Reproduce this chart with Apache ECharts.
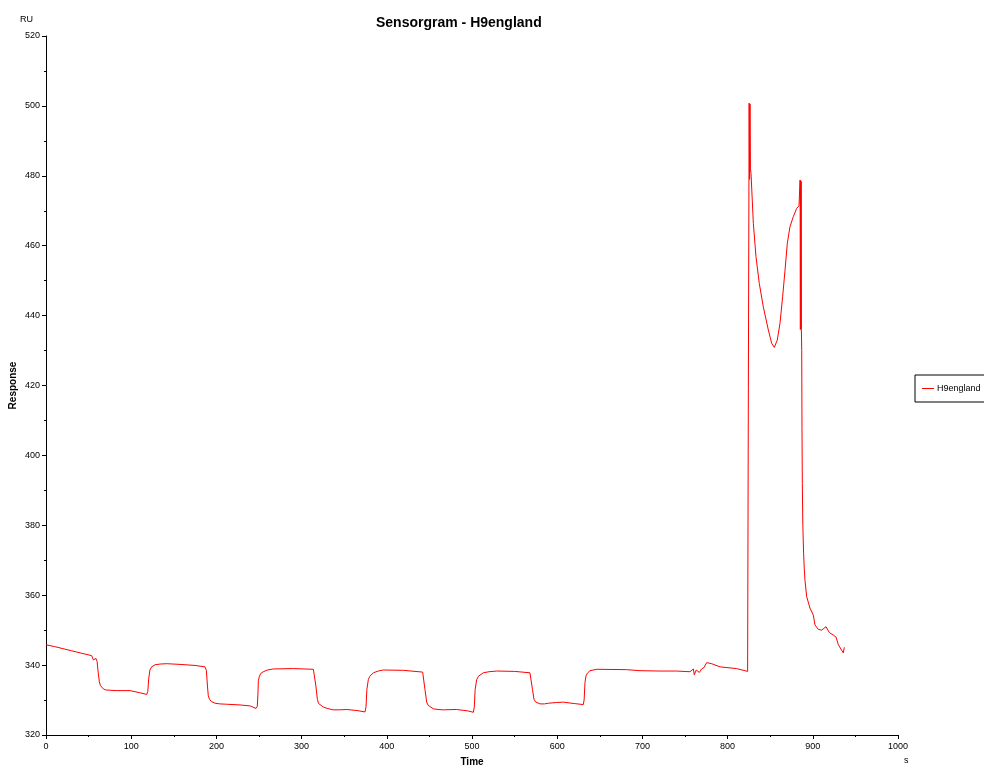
<!DOCTYPE html>
<html>
<head>
<meta charset="utf-8">
<script src="https://cdn.jsdelivr.net/npm/echarts@6/dist/echarts.min.js"></script>
<style>
html,body{margin:0;padding:0;background:#fff;}
#chart{width:984px;height:765px;}
</style>
</head>
<body>
<div id="chart"></div>
<script>
var chartTitle = 'Sensorgram - H9england';
var seriesName = 'H9england';
var xTicks = [0, 100, 200, 300, 400, 500, 600, 700, 800, 900, 1000];
var yTicks = [320, 340, 360, 380, 400, 420, 440, 460, 480, 500, 520];

var times = [
  0, 10, 20, 30, 40, 53.6, 55.6, 57, 58.7, 60, 61.2, 62.6, 64, 65.5, 67.3, 70, 75, 83, 98.6, 110, 118.2,
  119.5, 120.5, 122, 124, 128, 134, 141.6, 157.3, 175, 186.6,
  188.2, 189.5, 190.5, 192, 194, 198.4, 204, 212, 227.7, 240, 246.5,
  248, 248.8, 249.2, 250.5, 252, 255, 260, 266.8, 290.3, 313.8,
  315.5, 316.8, 318.5, 320, 321.5, 325.5, 330, 337.2, 345, 353, 365, 374.4,
  375.6, 376.6, 378.3, 380, 384.2, 390, 395.9, 419.4, 442.1,
  443.6, 444.8, 446.8, 448.5, 450, 454.6, 460, 466.3, 481.9, 495, 501.6,
  502.7, 503.7, 505.5, 507.5, 513.3, 520, 529, 550, 568,
  569.8, 571, 572.8, 574.5, 576, 579.8, 585, 590, 599.4, 607.2, 620, 630.6,
  631.6, 632.6, 633.8, 635.5, 638.5, 646.3, 681.5, 697.2, 720.7, 740, 755.9,
  759.8, 760.9, 763.2, 766.8, 769.5, 772.3, 775.4, 781.3, 791.1, 810.7, 823.5,
  824.5, 825.3, 825.8, 826.3, 826.8, 827.5, 830.2, 833.3, 837.2, 841.9, 847.8, 851.7, 854.8,
  858.3, 861.5, 864.6, 867.4, 870.1, 873.2, 877.1, 881.1, 883.8,
  884.8, 885.1, 885.4, 885.7, 886.0, 886.3, 886.6, 887.0, 887.3, 887.7, 888.3, 889.2, 890.0,
  890.8, 892.8, 896.7, 900.6, 902.6, 903.5, 906.5, 908.5, 910.5, 912.5, 915.5, 919.4,
  924, 927.3, 930, 935.8, 937
];
var values = [
  345.8, 345.3, 344.7, 344.1, 343.5, 342.7, 341.5, 341.4, 341.9, 341.0, 338.0, 335.2, 334.1, 333.6, 333.2, 332.9, 332.8, 332.7, 332.7, 332.1, 331.6,
  332.5, 336.0, 338.6, 339.5, 340.1, 340.3, 340.4, 340.2, 339.9, 339.5,
  338.5, 334.0, 331.2, 330.2, 329.6, 329.1, 328.9, 328.8, 328.6, 328.3, 327.6,
  328.2, 332.0, 335.5, 336.8, 337.6, 338.1, 338.6, 338.9, 339.0, 338.8,
  338.3, 334.0, 330.2, 329.0, 328.5, 328.0, 327.6, 327.2, 327.2, 327.3, 327.0, 326.6,
  328.0, 333.0, 335.8, 336.8, 337.8, 338.3, 338.6, 338.5, 338.0,
  337.5, 333.0, 329.4, 328.5, 328.1, 327.5, 327.3, 327.2, 327.3, 326.9, 326.5,
  328.0, 333.0, 335.8, 336.8, 337.8, 338.1, 338.3, 338.2, 337.8,
  337.3, 333.0, 330.2, 329.5, 329.2, 328.9, 328.9, 329.1, 329.3, 329.4, 329.0, 328.7,
  330.0, 335.0, 336.9, 337.7, 338.4, 338.8, 338.7, 338.4, 338.3, 338.3, 338.1,
  338.9, 337.2, 338.6, 337.9, 338.9, 339.3, 340.7, 340.4, 339.5, 339.0, 338.2,
  338.2, 500.8, 479.0, 500.5, 482.0, 480.7, 466.4, 456.9, 449.2, 442.5, 435.9, 432.1, 430.9,
  433.0, 437.8, 445.4, 453.0, 460.7, 465.4, 468.3, 470.7, 471.4,
  471.5, 478.8, 436.0, 478.6, 436.2, 478.4, 436.0, 430.0, 408.0, 392.0, 380.0, 372.0, 367.5,
  364.3, 359.6, 356.3, 354.3, 351.5, 351.9, 350.2, 350.7, 350.0, 350.5, 351.0, 349.3,
  348.6, 348.0, 345.8, 343.5, 345.1
];

var data = times.map(function (t, i) { return [t, values[i]]; });

var chart = echarts.init(document.getElementById('chart'), null, {renderer: 'canvas'});
var font = 'Liberation Sans, Arial, sans-serif';
chart.setOption({
  animation: false,
  backgroundColor: '#ffffff',
  title: {
    text: chartTitle,
    left: 371,
    top: 11,
    textStyle: {fontFamily: font, fontSize: 14, fontWeight: 'bold', color: '#000'}
  },
  legend: {
    left: 915,
    top: 375,
    orient: 'vertical',
    borderColor: '#000',
    borderWidth: 1,
    borderRadius: 0,
    padding: [9, 14, 9, 7],
    itemWidth: 12,
    itemHeight: 10,
    itemGap: 4,
    icon: 'path://M0,5 L12,5 L12,6 L0,6 Z',
    textStyle: {fontFamily: font, fontSize: 9, color: '#000', padding: [0, 0, 0, -2]},
    data: [{name: seriesName, itemStyle: {color: '#ff0000'}}]
  },
  grid: {left: 46, right: 86, top: 36, bottom: 30, containLabel: false, outerBoundsMode: 'none'},
  xAxis: {
    type: 'value',
    min: xTicks[0],
    max: xTicks[xTicks.length - 1],
    interval: 100,
    name: 'Time',
    nameLocation: 'middle',
    nameGap: 22,
    nameMoveOverlap: false,
    nameTextStyle: {fontFamily: font, fontSize: 10, fontWeight: 'bold', color: '#000'},
    axisLine: {show: true, lineStyle: {color: '#000', width: 1}},
    axisTick: {show: true, length: 4, lineStyle: {color: '#000'}},
    minorTick: {show: true, splitNumber: 2, length: 2, lineStyle: {color: '#000'}},
    splitLine: {show: false},
    axisLabel: {fontFamily: font, fontSize: 9, color: '#000', margin: 7,
      formatter: function (v) { return String(v); }}
  },
  yAxis: {
    type: 'value',
    min: yTicks[0],
    max: yTicks[yTicks.length - 1],
    interval: 20,
    name: 'Response',
    nameLocation: 'middle',
    nameGap: 28,
    nameMoveOverlap: false,
    nameRotate: 90,
    nameTextStyle: {fontFamily: font, fontSize: 10, fontWeight: 'bold', color: '#000'},
    axisLine: {show: true, lineStyle: {color: '#000', width: 1}},
    axisTick: {show: true, length: 4, lineStyle: {color: '#000'}},
    minorTick: {show: true, splitNumber: 2, length: 2, lineStyle: {color: '#000'}},
    splitLine: {show: false},
    axisLabel: {fontFamily: font, fontSize: 9, color: '#000', margin: 6,
      formatter: function (v) { return String(v); }}
  },
  graphic: [
    {type: 'text', left: 20, top: 15, style: {text: 'RU', font: '9px ' + font, fill: '#000'}},
    {type: 'text', left: 904, top: 756, style: {text: 's', font: '9px ' + font, fill: '#000'}}
  ],
  series: [{
    name: seriesName,
    type: 'line',
    data: data,
    showSymbol: false,
    symbol: 'none',
    lineStyle: {color: '#ff0000', width: 1},
    itemStyle: {color: '#ff0000'},
    emphasis: {disabled: true}
  }]
});
</script>
</body>
</html>
